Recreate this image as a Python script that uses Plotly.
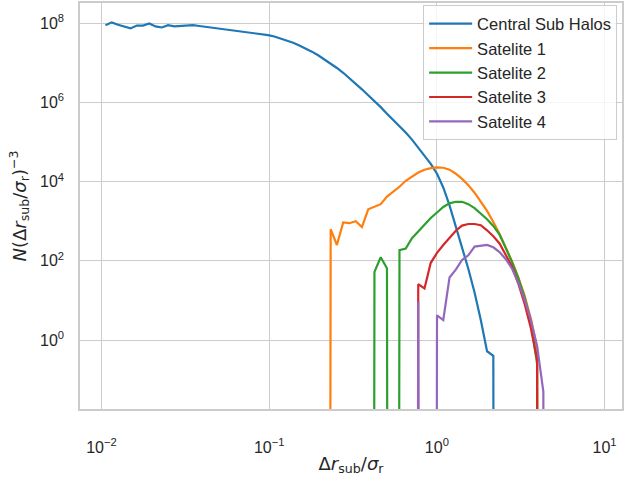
import plotly.graph_objects as go

# bin centres (log-spaced) of delta r_sub / sigma_r
x_bins = [0.01057, 0.01151, 0.01255, 0.01367, 0.01490, 0.01624, 0.01769, 0.01928,
          0.02101, 0.02289, 0.02495, 0.02719, 0.02962, 0.03228, 0.03518, 0.03833,
          0.04177, 0.04551, 0.04959, 0.05404, 0.05888, 0.06416, 0.06991, 0.07618,
          0.08301, 0.09046, 0.09858, 0.1074, 0.1170, 0.1275, 0.1390, 0.1514,
          0.1650, 0.1798, 0.1959, 0.2135, 0.2327, 0.2535, 0.2763, 0.3011,
          0.3281, 0.3575, 0.3896, 0.4245, 0.4626, 0.5041, 0.5493, 0.5985,
          0.6522, 0.7107, 0.7745, 0.8439, 0.9196, 1.002, 1.092, 1.190,
          1.297, 1.413, 1.540, 1.678, 1.828, 1.992, 2.171, 2.365,
          2.577, 2.809, 3.061, 3.335, 3.634, 3.960, 4.315, 4.702]

central = [8.9e7, 1.05e8, 9.1e7, 8.1e7, 7.4e7, 8.7e7, 8.7e7, 9.8e7,
           8.3e7, 7.8e7, 8.9e7, 8.3e7, 8.5e7, 8.5e7, 8.9e7, 8.5e7,
           8.1e7, 7.8e7, 7.4e7, 7.1e7, 6.8e7, 6.5e7, 6.3e7, 6.0e7,
           5.6e7, 5.4e7, 5.0e7, 4.6e7, 4.1e7, 3.6e7, 3.2e7, 2.75e7,
           2.34e7, 1.91e7, 1.55e7, 1.23e7, 9.5e6, 7.4e6, 5.6e6, 4.1e6,
           2.95e6, 2.14e6, 1.51e6, 1.10e6, 7.6e5, 5.2e5, 3.6e5, 2.57e5,
           1.74e5, 1.15e5, 7.2e4, 4.6e4, 2.8e4, 1.58e4, 7.1e3, 2.5e3,
           760, 214, 63, 15.8, 3.2, 0.52, 0.40] + [0] * 9

sat1 = [0] * 36 + [631, 251, 933, 891, 1000, 708, 1995, 2344, 2692, 4169, 5495, 7413,
                   1.05e4, 1.35e4, 1.70e4, 2.0e4, 2.19e4, 2.29e4, 2.24e4, 2.0e4,
                   1.58e4, 1.17e4, 8130, 5250, 3160, 1820, 955, 479, 214, 95,
                   38, 13.2, 3.5, 0.63] + [0] * 2

sat2 = [0] * 43 + [52.5, 123, 64.6, 0, 186, 204, 372, 550, 832, 1202, 1660, 2290,
                   2820, 3090, 3090, 2690, 2140, 1585, 1122, 759, 457, 209, 93, 36,
                   12, 2.8, 0.25] + [0] * 2

sat3 = [0] * 50 + [25.7, 20, 89, 158, 251, 380, 575, 776, 851, 851, 794, 589,
                   417, 275, 141, 71, 26.3, 8.3, 2.0, 0.32] + [0] * 2

sat4 = [0] * 50 + [9.3, 0, 0, 4.2, 3.2, 38, 60, 105, 138, 229, 240, 251,
                   219, 166, 110, 63, 28, 10.5, 3.2, 0.71, 0.05] + [0]

names = ["Central Sub Halos", "Satelite 1", "Satelite 2", "Satelite 3", "Satelite 4"]
series = [central, sat1, sat2, sat3, sat4]
colors = ["#1f77b4", "#ff7f0e", "#2ca02c", "#d62728", "#9467bd"]

x_tickvals = [0.01, 0.1, 1, 10]
x_ticktext = ["10<sup>\u22122</sup>", "10<sup>\u22121</sup>", "10<sup>0</sup>", "10<sup>1</sup>"]
y_tickvals = [1, 1e2, 1e4, 1e6, 1e8]
y_ticktext = ["10<sup>0</sup>", "10<sup>2</sup>", "10<sup>4</sup>", "10<sup>6</sup>", "10<sup>8</sup>"]


def clip_log(vals):
    # zeros on a log axis are clipped far below the axis (like matplotlib)
    return [v if v > 0 else 1e-100 for v in vals]


fig = go.Figure()
for name, vals, color in zip(names, series, colors):
    assert len(vals) == len(x_bins)
    fig.add_trace(go.Scatter(x=x_bins, y=clip_log(vals), mode="lines", name=name,
                             line=dict(color=color, width=2.2)))

tick_font = dict(family="Liberation Sans, Arial, sans-serif", size=16, color="#262626")
title_font = dict(family="DejaVu Sans, sans-serif", size=18, color="#262626")
grid = "#cccccc"

fig.update_layout(
    width=624, height=480,
    margin=dict(l=80, r=2, t=3, b=71, autoexpand=False),
    paper_bgcolor="white", plot_bgcolor="white",
    showlegend=True,
    legend=dict(x=0.991, y=0.994, xanchor="right", yanchor="top", itemwidth=43,
                bgcolor="rgba(255,255,255,0.8)", bordercolor="#cccccc", borderwidth=1,
                font=dict(family="Liberation Sans, Arial, sans-serif", size=16.5, color="#262626")),
    xaxis=dict(type="log", range=[-2.128, 1.104], automargin=False,
               tickmode="array", tickvals=x_tickvals, ticktext=x_ticktext,
               showgrid=True, gridcolor=grid, gridwidth=1.4,
               showline=True, linecolor=grid, linewidth=1.5, mirror=True,
               zeroline=False, ticks="outside", ticklen=23, tickcolor="rgba(0,0,0,0)",
               tickfont=tick_font,
               title=dict(text="\u0394<i>r</i><sub>sub</sub>/<i>\u03c3</i><sub>r</sub>",
                          font=title_font, standoff=2)),
    yaxis=dict(type="log", range=[-1.742, 8.51], automargin=False,
               tickmode="array", tickvals=y_tickvals, ticktext=y_ticktext,
               showgrid=True, gridcolor=grid, gridwidth=1.4,
               showline=True, linecolor=grid, linewidth=1.5, mirror=True,
               zeroline=False, ticks="outside", ticklen=11, tickcolor="rgba(0,0,0,0)",
               tickfont=tick_font,
               title=dict(text="<i>N</i>(\u0394<i>r</i><sub>sub</sub>/<i>\u03c3</i><sub>r</sub>)<sup>\u22123</sup>",
                          font=title_font, standoff=9)),
)

fig.write_html("out.html", config={"displayModeBar": False},
               post_script="document.body.style.margin='0px';")
